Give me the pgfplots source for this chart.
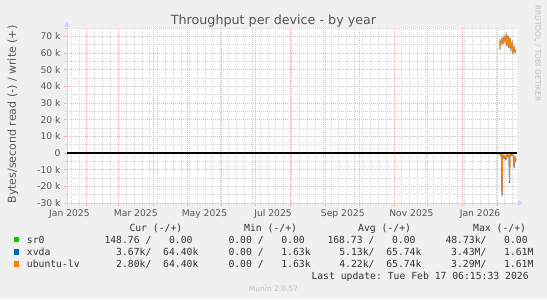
\documentclass[border=0pt]{standalone}
\usepackage{fontspec}
\setmainfont{DejaVu Sans}
\setmonofont{DejaVu Sans Mono}
\usepackage{pgfplots}
\pgfplotsset{compat=1.18}
\usetikzlibrary{arrows.meta}
\definecolor{bgcol}{HTML}{F0F0F0}
\definecolor{fontcol}{HTML}{555555}
\definecolor{legcol}{HTML}{333333}
\definecolor{axiscol}{HTML}{CFD6F8}
\definecolor{mgrid}{HTML}{F2B0B0}
\definecolor{mingrid}{HTML}{D4D4D4}
\definecolor{wmcol}{HTML}{C0C0C0}
\definecolor{srgreen}{HTML}{00CC00}
\definecolor{xvdablue}{HTML}{0066B3}
\definecolor{lvorange}{HTML}{FF8000}
\newcommand{\legfont}{\ttfamily\fontsize{9.75bp}{11bp}\selectfont}
\newcommand{\legtxt}[3]{\node[anchor=base west, inner sep=0pt, font=\legfont, text=legcol] at (#1,299-#2) {#3};}
\begin{document}
\begin{tikzpicture}[x=1bp,y=1bp]
\fill[bgcol] (0,0) rectangle (547,299);
\begin{axis}[
  at={(67bp,96bp)}, anchor=south west,
  scale only axis, width=450bp, height=175bp,
  xmin=13.33, xmax=413.33, ymin=-30000, ymax=75000,
  axis background/.style={fill=white},
  axis lines=left,
  axis line style={draw=axiscol, line width=1bp},
  x axis line style={-{Triangle[length=5bp,width=6bp]}, shorten >=-6bp, shorten <=-3bp},
  y axis line style={-{Triangle[length=5bp,width=6bp]}, shorten >=-6bp, shorten <=-3bp},
  tick align=outside,
  major tick length=3bp, minor tick length=2bp,
  major tick style={draw=mgrid, line width=0.9bp},
  minor tick style={draw=mingrid, line width=0.9bp},
  grid=both,
  major grid style={draw=mgrid, dash pattern=on 1bp off 1bp, line width=0.9bp},
  minor grid style={draw=mingrid, dash pattern=on 1bp off 1bp, line width=0.8bp},
  xtick={31,59,90,120,151,181,212,243,273,304,334,365,396},
  xticklabels={},
  minor xtick={17,24,...,409},
  extra x ticks={15.5,74.5,135.5,196.5,258.5,319.5,380.5},
  extra x tick labels={Jan 2025,Mar 2025,May 2025,Jul 2025,Sep 2025,Nov 2025,Jan 2026},
  extra x tick style={grid=none, major tick length=0pt},
  ytick={-30000,-20000,-10000,0,10000,20000,30000,40000,50000,60000,70000},
  yticklabels={-30 k,-20 k,-10 k,0,10 k,20 k,30 k,40 k,50 k,60 k,70 k},
  minor ytick={-25000,-15000,-5000,5000,15000,25000,35000,45000,55000,65000,75000},
  scaled ticks=false,
  tick label style={font=\fontsize{9.2bp}{11bp}\selectfont, text=fontcol},
  xticklabel style={yshift=-3bp},
]
% sr0 read (-) and write (+)
\addplot[srgreen, line width=0.9bp] coordinates {
(398.2,0) (399.1,-300) (400.0,-700) (400.9,-300) (401.8,-100) (402.7,0) (403.6,-100) (404.4,0)
(405.3,0) (406.2,0) (407.1,0) (408.0,0) (408.9,0) (409.8,0) (410.7,0) (411.6,0) (412.4,0)};
% xvda write (+)
\addplot[xvdablue, line width=0.9bp] coordinates {
(398.2,62000) (398.3,67000) (399.1,65500) (400.0,68500) (400.9,66000) (401.8,69500)
(402.7,67000) (403.6,70500) (404.4,64000) (405.3,70500) (406.2,63000) (407.1,69000)
(408.0,62500) (408.9,66000) (409.8,60500) (410.7,63500) (411.6,60500) (412.4,62000)};
% xvda read (-)
\addplot[xvdablue, line width=0.9bp] coordinates {
(398.2,-500) (398.7,-1500) (399.1,-1000) (399.6,-2000) (400.0,-26000) (400.5,-3000)
(400.9,-1500) (401.4,-2500) (401.8,-2000) (402.3,-3000) (402.7,-2500) (403.2,-3500)
(403.6,-2000) (404.0,-3000) (404.4,-1500) (404.9,-2000) (405.3,-1000) (405.8,-1500)
(406.2,-2500) (406.7,-18000) (407.1,-1500) (407.6,-1000) (408.0,-500) (408.5,-1500)
(408.9,-1000) (409.4,-500) (409.8,-1500) (410.3,-2500) (410.7,-9000) (411.2,-4500)
(411.6,-3000) (412.0,-4500) (412.4,-3500)};
% ubuntu-lv write (+)
\addplot[lvorange, line width=0.9bp] coordinates {
(398.2,62000) (398.3,67000) (399.1,65500) (400.0,68500) (400.9,66000) (401.8,69500)
(402.7,67000) (403.6,70500) (404.4,64000) (405.3,70500) (406.2,63000) (407.1,69000)
(408.0,62500) (408.9,66000) (409.8,60500) (410.7,63500) (411.6,60500) (412.4,62000)};
% ubuntu-lv read (-)
\addplot[lvorange, line width=0.9bp] coordinates {
(398.2,-400) (398.7,-1300) (399.1,-900) (399.6,-1700) (400.0,-25000) (400.5,-2500)
(400.9,-1200) (401.4,-2000) (401.8,-1600) (402.3,-2400) (402.7,-2000) (403.2,-2800)
(403.6,-1600) (404.0,-2500) (404.4,-1200) (404.9,-1600) (405.3,-800) (405.8,-1200)
(406.2,-2000) (406.7,-17000) (407.1,-1200) (407.6,-800) (408.0,-400) (408.5,-1200)
(408.9,-800) (409.4,-400) (409.8,-1200) (410.3,-2000) (410.7,-8000) (411.2,-3800)
(411.6,-2500) (412.0,-3800) (412.4,-3000)};
% zero line
\addplot[black, line width=1.1bp] coordinates {(13.33,0) (413.33,0)};
\end{axis}
% title, axis label, watermarks
\node[anchor=base, inner sep=0pt, font=\fontsize{12.7bp}{15bp}\selectfont, text=fontcol] at (273.5,299-24) {Throughput per device - by year};
\node[rotate=90, anchor=base, inner sep=0pt, font=\fontsize{11bp}{13bp}\selectfont, text=fontcol] at (15.8,299-114.5) {Bytes/second read (-) / write (+)};
\node[rotate=-90, anchor=base west, inner sep=0pt, font=\fontsize{7.5bp}{9bp}\selectfont, text=wmcol] at (535.3,299-5) {RRDTOOL / TOBI OETIKER};
\node[anchor=base, inner sep=0pt, font=\fontsize{7.5bp}{9bp}\selectfont, text=wmcol] at (273.5,299-291) {Munin 2.0.57};
% legend keys
\fill[srgreen] (14,299-242.3) rectangle (19.3,299-237);
\fill[xvdablue] (14,299-254.5) rectangle (19.3,299-249.2);
\fill[lvorange] (14,299-266.6) rectangle (19.3,299-261.3);
% legend table
\legtxt{129.3}{231.3}{Cur~(-/+)}
\legtxt{244}{231.3}{Min~(-/+)}
\legtxt{358}{231.3}{Avg~(-/+)}
\legtxt{473}{231.3}{Max~(-/+)}
\legtxt{26.7}{243}{sr0}
\legtxt{104.3}{243}{148.76~/~~~0.00}
\legtxt{228.3}{243}{0.00~/~~~0.00}
\legtxt{327.3}{243}{168.73~/~~~0.00}
\legtxt{445.3}{243}{48.73k/~~~0.00}
\legtxt{26.7}{255.2}{xvda}
\legtxt{116}{255.2}{3.67k/~~64.40k}
\legtxt{228.3}{255.2}{0.00~/~~~1.63k}
\legtxt{339.1}{255.2}{5.13k/~~65.74k}
\legtxt{451}{255.2}{3.43M/~~~1.61M}
\legtxt{26.7}{267.3}{ubuntu-lv}
\legtxt{116}{267.3}{2.80k/~~64.40k}
\legtxt{228.3}{267.3}{0.00~/~~~1.63k}
\legtxt{339.1}{267.3}{4.22k/~~65.74k}
\legtxt{451}{267.3}{3.29M/~~~1.61M}
\legtxt{311.3}{279.4}{Last~update:~Tue~Feb~17~06:15:33~2026}
\pgfresetboundingbox
\path[use as bounding box] (0,0) rectangle (547,299);
\end{tikzpicture}
\end{document}
